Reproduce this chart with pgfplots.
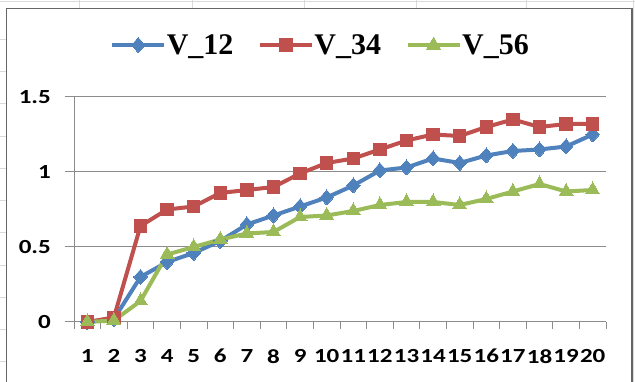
\documentclass[border=0pt]{standalone}
\usepackage{fontspec}
\usepackage{pgfplots}
\pgfplotsset{compat=1.18}
\newfontfamily\legfont{Liberation Serif}
\newfontfamily\tickfont{Carlito}[FakeStretch=1.25]
\definecolor{cblue}{HTML}{4F81BD}
\definecolor{cred}{HTML}{C0504D}
\definecolor{cgreen}{HTML}{9BBB59}
\definecolor{gridc}{HTML}{8C8C8C}
\definecolor{sheet}{HTML}{DADADA}
\begin{document}
\begin{tikzpicture}
\path[use as bounding box] (0pt,0pt) rectangle (635pt,382pt);
% spreadsheet background
\foreach \yy in {39.25,71.5,103.75,136,168.25,200.5,232.75,265,297.25,329.5,361.75}{
  \draw[sheet,line width=0.8pt] (0pt,382pt-\yy pt) -- (6pt,382pt-\yy pt);}
\foreach \xx in {79,192,304,416,526}{
  \draw[sheet,line width=0.8pt] (\xx pt,382pt) -- (\xx pt,373pt);}
\draw[sheet,line width=0.8pt] (0pt,380.5pt) -- (635pt,380.5pt);
\draw[sheet,line width=0.8pt] (633.5pt,0pt) -- (633.5pt,382pt);
% chart area
\draw[fill=white,draw=gray!80!black,line width=1.2pt] (6.5pt,-5pt) rectangle (632pt,373.5pt);
\begin{axis}[
  at={(74pt,60pt)}, anchor=south west,
  scale only axis, width=532pt, height=225pt,
  xmin=0.5, xmax=20.5, ymin=0, ymax=1.5,
  clip=false,
  axis x line*=bottom, axis y line*=left,
  axis line style={draw=gridc, line width=1pt, -},
  xtick={1,...,20},
  minor xtick={0.5,1.5,...,20.5},
  ytick={0,0.5,1,1.5},
  yticklabels={0,0.5,1,1.5},
  tick align=outside,
  major tick length=9pt,
  minor tick length=7pt,
  major x tick style={draw=none},
  every tick/.style={draw=gridc, line width=1pt},
  minor tick style={draw=gridc, line width=1pt},
  ymajorgrids,
  major grid style={draw=gridc, line width=1pt},
  /pgf/number format/assume math mode=true,
  tick label style={font=\tickfont\bfseries\fontsize{20}{20}\selectfont, inner sep=0pt},
  xticklabel style={yshift=-18pt},
  yticklabel style={xshift=-14pt},
  legend style={at={(0.462,1.231)}, anchor=center, draw=none, fill=none,
    font=\legfont\bfseries\fontsize{30}{30}\selectfont,
    legend columns=-1, inner sep=0pt,
    nodes={inner sep=0.5pt},
    /tikz/every even column/.append style={column sep=24pt}},
  legend image code/.code={\draw[mark repeat=2,mark phase=2] plot coordinates {(0pt,0pt) (26pt,0pt) (52pt,0pt)};},
  every axis plot/.append style={line width=4pt, mark options={solid}},
]
\addplot[cblue, mark=diamond*, mark size=7.5pt, mark options={line width=0pt, xscale=1.2}] coordinates {
(1,0) (2,0.02) (3,0.30) (4,0.40) (5,0.46) (6,0.54) (7,0.65) (8,0.71) (9,0.77) (10,0.83)
(11,0.91) (12,1.01) (13,1.03) (14,1.09) (15,1.06) (16,1.11) (17,1.14) (18,1.15) (19,1.17) (20,1.25)};
\addlegendentry{V\_12}
\addplot[cred, mark=square*, mark size=6.25pt, mark options={line width=0pt}] coordinates {
(1,0) (2,0.03) (3,0.64) (4,0.75) (5,0.77) (6,0.86) (7,0.88) (8,0.90) (9,0.99) (10,1.06)
(11,1.09) (12,1.15) (13,1.21) (14,1.25) (15,1.24) (16,1.30) (17,1.35) (18,1.30) (19,1.32) (20,1.32)};
\addlegendentry{V\_34}
\addplot[cgreen, mark=triangle*, mark size=8pt, mark options={line width=0pt}] coordinates {
(1,0) (2,0.01) (3,0.14) (4,0.45) (5,0.50) (6,0.55) (7,0.59) (8,0.60) (9,0.70) (10,0.71)
(11,0.74) (12,0.78) (13,0.80) (14,0.80) (15,0.78) (16,0.82) (17,0.87) (18,0.92) (19,0.87) (20,0.88)};
\addlegendentry{V\_56}
\end{axis}
\end{tikzpicture}
\end{document}
